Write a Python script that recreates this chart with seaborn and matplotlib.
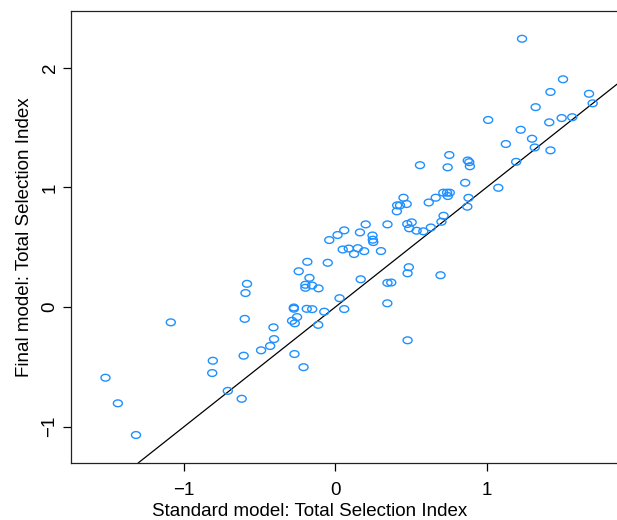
import numpy as np
import pandas as pd
import matplotlib
matplotlib.use("Agg")
import matplotlib.pyplot as plt
from matplotlib.path import Path
import seaborn as sns

standard = [1.235, 1.506, 1.423, 1.678, 1.702, 1.325, 1.011, 1.415, 1.497, 1.567,
            1.226, 1.301, 1.128, 1.319, 1.423, 1.196, 1.078, 0.876, 0.886, 0.890,
            0.754, 0.743, 0.560, 0.859, 0.714, 0.739, 0.757, 0.744, 0.664, 0.618,
            0.881, 0.873, 0.451, 0.409, 0.428, 0.472, 0.407, 0.716, 0.702, 0.345,
            0.201, 0.476, 0.505, 0.489, 0.538, 0.582, 0.632, 0.059, 0.163, 0.246,
            0.248, 0.251, 0.015, -0.040, 0.049, 0.089, 0.149, 0.124, 0.191, 0.302,
            -0.185, -0.050, -0.242, -0.171, -0.198, -0.198, -0.154, -0.111, 0.168, 0.486,
            0.478, 0.696, 0.345, 0.370, 0.028, 0.059, 0.344, 0.478, -0.274, -0.274,
            -0.189, -0.153, -0.073, -0.253, -0.286, -0.268, -0.113, -0.409, -0.405, -0.431,
            -0.491, -0.270, -0.210, -0.584, -0.594, -0.599, -1.088, -0.606, -0.810, -0.814,
            -0.711, -0.619, -1.520, -1.438, -1.318]
final = [2.243, 1.904, 1.798, 1.783, 1.703, 1.671, 1.564, 1.544, 1.580, 1.587,
         1.482, 1.407, 1.363, 1.334, 1.310, 1.214, 0.997, 1.225, 1.211, 1.177,
         1.271, 1.168, 1.186, 1.039, 0.956, 0.956, 0.956, 0.928, 0.914, 0.874,
         0.913, 0.839, 0.914, 0.850, 0.850, 0.861, 0.800, 0.763, 0.713, 0.691,
         0.691, 0.694, 0.708, 0.658, 0.638, 0.633, 0.665, 0.641, 0.624, 0.598,
         0.563, 0.543, 0.602, 0.560, 0.481, 0.489, 0.492, 0.443, 0.467, 0.468,
         0.378, 0.370, 0.299, 0.244, 0.186, 0.161, 0.180, 0.156, 0.232, 0.333,
         0.282, 0.266, 0.202, 0.205, 0.074, -0.017, 0.031, -0.278, -0.004, -0.014,
         -0.015, -0.018, -0.039, -0.084, -0.115, -0.136, -0.149, -0.170, -0.268, -0.326,
         -0.362, -0.393, -0.503, 0.194, 0.117, -0.099, -0.128, -0.407, -0.449, -0.552,
         -0.701, -0.767, -0.591, -0.805, -1.070]

x_ticks = [-1, 0, 1]
y_ticks = [-1, 0, 1, 2]
x_label = "Standard model: Total Selection Index"
y_label = "Final model: Total Selection Index"

df = pd.DataFrame({"standard": standard, "final": final})

sns.set_style("ticks")
plt.rcParams["font.family"] = ["Liberation Sans", "DejaVu Sans"]

fig = plt.figure(figsize=(6.17, 5.20), dpi=100)
ax = fig.add_axes([71 / 617, 1 - 463 / 520, 1 - 71 / 617, (463 - 11) / 520])

# slightly flattened open circle marker
t = np.linspace(0, 2 * np.pi, 60)
verts = np.column_stack([np.cos(t), 0.75 * np.sin(t)])
ell = Path(verts, closed=True)

sns.scatterplot(data=df, x="standard", y="final", ax=ax, marker=ell, s=42,
                facecolor="none", edgecolor="#1E90FF", linewidth=1.0, zorder=3)
ax.axline((0, 0), slope=1, color="black", lw=0.9, zorder=2)

ax.set_xlim(-1.748, 1.863)
ax.set_ylim(-1.304, 2.475)
ax.set_xticks(x_ticks)
ax.set_yticks(y_ticks)
ax.set_xticklabels([str(v).replace("-", "\u2212") for v in x_ticks])
ax.set_yticklabels([str(v).replace("-", "\u2212") for v in y_ticks])
ax.tick_params(axis="both", direction="out", length=6, width=0.9, color="black",
               labelsize=13.5, labelcolor="black")
ax.tick_params(axis="x", pad=8)
ax.tick_params(axis="y", pad=3, labelrotation=90)
for lab in ax.get_yticklabels():
    lab.set_verticalalignment("center")

for side in ["left", "bottom", "top"]:
    ax.spines[side].set_visible(True)
    ax.spines[side].set_color("#222222")
    ax.spines[side].set_linewidth(0.9)
ax.spines["right"].set_visible(False)

ax.set_xlabel(x_label, fontsize=13.5, labelpad=4, color="black")
ax.xaxis.set_label_coords((309.5 - 71) / (617 - 71), -0.088)
ax.set_ylabel(y_label, fontsize=13.5, labelpad=6, color="black")

fig.savefig("out.png", dpi=100)
